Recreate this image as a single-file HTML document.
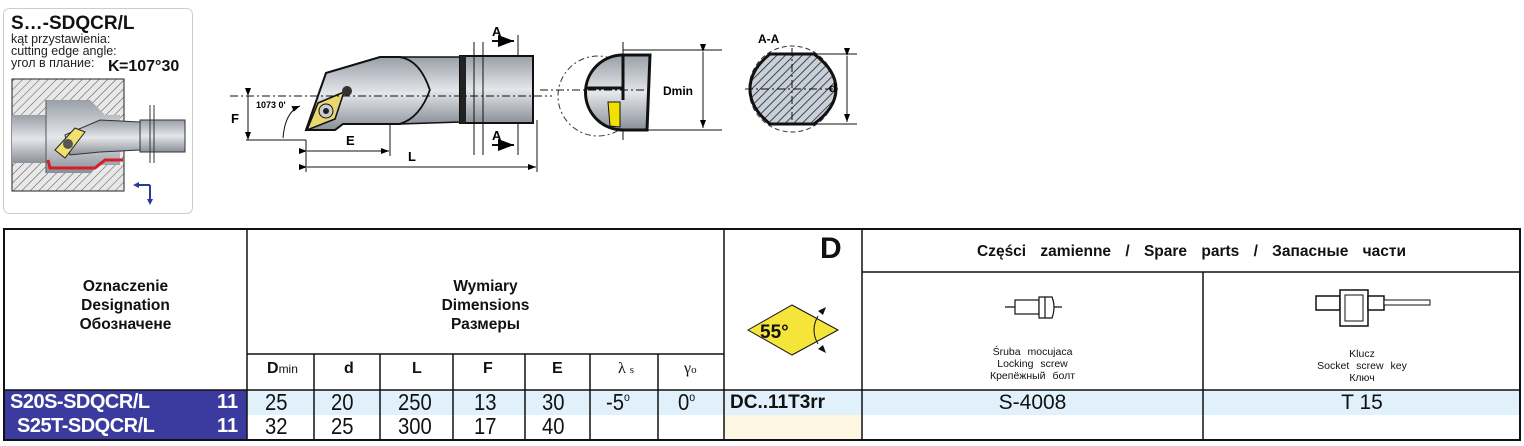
<!DOCTYPE html>
<html><head><meta charset="utf-8">
<style>
html,body{margin:0;padding:0;background:#fff;}
body{width:1524px;height:446px;position:relative;overflow:hidden;font-family:"Liberation Sans",Arial,sans-serif;}
.t{position:absolute;white-space:nowrap;}
.n{display:inline-block;transform:scaleX(0.88);transform-origin:left top;}
sup{font-size:12px;line-height:0;vertical-align:9px;}
</style></head><body>
<svg width="1524" height="446" style="position:absolute;left:0;top:0" xmlns="http://www.w3.org/2000/svg" font-family="Liberation Sans, Arial, sans-serif">
<defs>
<pattern id="h" width="6" height="6" patternUnits="userSpaceOnUse" patternTransform="rotate(45)"><rect width="6" height="6" fill="#e8e8e8"/><line x1="0" y1="0" x2="0" y2="6" stroke="#555" stroke-width="1"/></pattern>
<pattern id="h2" width="6" height="6" patternUnits="userSpaceOnUse" patternTransform="rotate(45)"><rect width="6" height="6" fill="#c8d0da"/><line x1="0" y1="0" x2="0" y2="6" stroke="#222" stroke-width="1.6"/></pattern>
<linearGradient id="g" x1="0" y1="0" x2="0" y2="1"><stop offset="0" stop-color="#9aa0a8"/><stop offset="0.5" stop-color="#e4e6ea"/><stop offset="1" stop-color="#8a9098"/></linearGradient>
<marker id="ar" markerWidth="8" markerHeight="6" refX="8" refY="3" orient="auto"><path d="M0,0L8,3L0,6z" fill="#000"/></marker>
</defs>
<!-- left box -->
<rect x="3.5" y="8.5" width="189" height="205" rx="6" fill="#fff" stroke="#ccc"/>
<text x="11" y="29" font-size="19" font-weight="bold" fill="#111">S…-SDQCR/L</text>
<text x="11" y="43" font-size="12.5" fill="#222">kąt przystawienia:</text>
<text x="11" y="55" font-size="12.5" fill="#222">cutting edge angle:</text>
<text x="11" y="67" font-size="12.5" fill="#222">угол в плание:</text>
<text x="108" y="71" font-size="16" font-weight="bold" fill="#111">K</text>
<text x="119" y="71" font-size="16" font-weight="bold" fill="#111">=107°30</text>
<rect x="12" y="79" width="112" height="112" fill="url(#h)" stroke="#222"/>
<rect x="12" y="115" width="35" height="48" fill="url(#g)"/>
<path d="M46,100 L90,100 L105,115 L120,115 L120,165 L100,165 L90,173 L46,173 Z" fill="url(#g)"/>
<path d="M46,100 L46,173" stroke="#555"/>
<path d="M48,160 L50,168 L95,168 L105,160 L123,160" fill="none" stroke="#d0202a" stroke-width="3"/>
<path d="M65,135 L100,120 L140,122 L150,135 L140,150 L100,152 L70,155 Z" fill="url(#g)" stroke="#333"/>
<rect x="140" y="120" width="45" height="32" fill="url(#g)" stroke="#333"/>
<path d="M55,150 L75,128 L85,132 L65,158 Z" fill="#f0e070" stroke="#222"/>
<circle cx="68" cy="144" r="5" fill="#555"/>
<line x1="150" y1="105" x2="150" y2="163" stroke="#333"/><line x1="154" y1="105" x2="154" y2="163" stroke="#333"/>
<path d="M150,185 L136,185 M150,185 L150,202" stroke="#2a3a9a" stroke-width="2" fill="none"/>
<path d="M133,185 L139,182 L139,188Z M150,205 L147,199 L153,199Z" fill="#2a3a9a"/>
<!-- main tool drawing -->
<path d="M306,130 L326,73 L380,57 L400,57 Q420,60 430,90 Q420,118 400,124 L343,124 L335,130 Z" fill="url(#g)" stroke="#111" stroke-width="2"/>
<path d="M400,57 L460,57 L460,122 L400,124 Q420,118 430,90 Q420,60 400,57Z" fill="url(#g)" stroke="#111" stroke-width="1.5"/>
<rect x="460" y="56" width="73" height="67" fill="url(#g)" stroke="#111" stroke-width="2"/>
<rect x="460" y="56" width="6" height="67" fill="#222"/>
<line x1="474" y1="42" x2="474" y2="155" stroke="#111"/><line x1="483" y1="42" x2="483" y2="155" stroke="#111"/>
<path d="M307,130 L318,103 L344,92 L335,119 Z" fill="#e8d870" stroke="#111" stroke-width="1.5"/>
<circle cx="326" cy="111" r="7" fill="#ccc" stroke="#111"/><circle cx="326" cy="111" r="3" fill="#222"/>
<circle cx="347" cy="91" r="5" fill="#333"/>
<line x1="230" y1="96" x2="552" y2="96" stroke="#111" stroke-dasharray="8,3,2,3"/>
<line x1="246" y1="140" x2="306" y2="140" stroke="#111"/>
<line x1="248" y1="96" x2="248" y2="140" stroke="#111" marker-start="url(#ar)" marker-end="url(#ar)"/>
<text x="231" y="123" font-size="13" font-weight="bold">F</text>
<text x="256" y="108" font-size="9" font-weight="bold">1073 0'</text>
<path d="M283,138 Q285,112 300,106" fill="none" stroke="#111" marker-end="url(#ar)"/>
<line x1="306" y1="140" x2="306" y2="172" stroke="#111"/>
<line x1="390" y1="124" x2="390" y2="156" stroke="#111"/>
<line x1="537" y1="120" x2="537" y2="172" stroke="#111"/>
<line x1="307" y1="151" x2="389" y2="151" stroke="#111" marker-start="url(#ar)" marker-end="url(#ar)"/>
<line x1="307" y1="167" x2="536" y2="167" stroke="#111" marker-start="url(#ar)" marker-end="url(#ar)"/>
<text x="346" y="145" font-size="13" font-weight="bold">E</text>
<text x="408" y="161" font-size="13" font-weight="bold">L</text>
<text x="492" y="36" font-size="13" font-weight="bold">A</text>
<text x="492" y="140" font-size="13" font-weight="bold">A</text>
<line x1="492" y1="41" x2="514" y2="41" stroke="#111" stroke-width="2" marker-end="url(#ar)"/>
<line x1="492" y1="145" x2="514" y2="145" stroke="#111" stroke-width="2" marker-end="url(#ar)"/>
<line x1="518" y1="35" x2="518" y2="56" stroke="#111"/><line x1="518" y1="123" x2="518" y2="155" stroke="#111"/>
<!-- end view -->
<circle cx="598" cy="96" r="40" fill="none" stroke="#333" stroke-dasharray="6,3,2,3"/>
<path d="M623,55 A37,37 0 1 0 623,130 L647,130 L650,55 Z" fill="url(#g)" stroke="#111" stroke-width="3"/>
<line x1="623" y1="55" x2="623" y2="100" stroke="#111" stroke-width="3"/>
<line x1="587" y1="88" x2="623" y2="88" stroke="#111" stroke-width="3"/>
<path d="M608,102 L620,102 L620,127 L610,126 Z" fill="#f2e000" stroke="#111"/>
<line x1="623" y1="42" x2="623" y2="55" stroke="#111"/><line x1="623" y1="130" x2="623" y2="140" stroke="#111"/>
<line x1="623" y1="50" x2="722" y2="50" stroke="#111"/><line x1="623" y1="130" x2="722" y2="130" stroke="#111"/>
<line x1="703" y1="52" x2="703" y2="128" stroke="#111" marker-start="url(#ar)" marker-end="url(#ar)"/>
<line x1="540" y1="90" x2="650" y2="90" stroke="#111" stroke-dasharray="8,3,2,3"/>
<text x="663" y="95" font-size="12" font-weight="bold">Dmin</text>
<text x="758" y="43" font-size="12" font-weight="bold">A-A</text>
<circle cx="792" cy="89" r="43" fill="none" stroke="#333" stroke-dasharray="5,3"/>
<path d="M770,54 L814,54 Q836,70 836,89 Q836,108 814,124 L770,124 Q750,108 750,89 Q750,70 770,54Z" fill="url(#h2)" stroke="#111" stroke-width="3"/>
<line x1="745" y1="89" x2="840" y2="89" stroke="#111" stroke-dasharray="8,3,2,3"/>
<line x1="792" y1="48" x2="792" y2="128" stroke="#111" stroke-dasharray="8,3,2,3"/>
<line x1="815" y1="54" x2="857" y2="54" stroke="#111"/><line x1="815" y1="124" x2="857" y2="124" stroke="#111"/>
<line x1="847" y1="56" x2="847" y2="122" stroke="#111" marker-start="url(#ar)" marker-end="url(#ar)"/>
<text x="829" y="92" font-size="12" font-weight="bold">d</text>

<!-- table backgrounds -->
<rect x="247" y="390" width="1274" height="25" fill="#e0f1fb"/>
<rect x="724" y="415" width="138" height="25" fill="#fdf6e2"/>
<rect x="3" y="390" width="244" height="50" fill="#3b3b9f"/>
<!-- table lines -->
<rect x="4" y="229" width="1516" height="211" fill="none" stroke="#111" stroke-width="2"/>
<g stroke="#111" stroke-width="1.5">
<line x1="247" y1="229" x2="247" y2="440"/>
<line x1="724" y1="229" x2="724" y2="440"/>
<line x1="862" y1="229" x2="862" y2="440"/>
<line x1="1203" y1="272" x2="1203" y2="440"/>
<line x1="862" y1="272" x2="1521" y2="272"/>
<line x1="247" y1="354" x2="724" y2="354"/>
<line x1="4" y1="390" x2="1521" y2="390"/>
<line x1="314" y1="354" x2="314" y2="440"/>
<line x1="380" y1="354" x2="380" y2="440"/>
<line x1="453" y1="354" x2="453" y2="440"/>
<line x1="525" y1="354" x2="525" y2="440"/>
<line x1="590" y1="354" x2="590" y2="440"/>
<line x1="658" y1="354" x2="658" y2="440"/>
</g>
<!-- diamond -->
<path d="M748,330 L792,305 L838,330 L792,355Z" fill="#f5e43a" stroke="#111"/>
<text x="760" y="338" font-size="19" font-weight="bold" fill="#111">55°</text>
<path d="M818,316 Q810,330 818,344" fill="none" stroke="#111"/>
<path d="M826,307 L818,311 L823,315Z M826,353 L818,349 L823,345Z" fill="#111"/>
<!-- screw icon -->
<g stroke="#111" fill="#fff" stroke-width="1.2">
<line x1="1005" y1="307" x2="1062" y2="307"/>
<rect x="1015" y="300" width="24" height="14"/>
<path d="M1039,297 L1052,297 Q1056,307 1052,318 L1039,318Z"/>
<line x1="1045" y1="297" x2="1045" y2="318"/>
</g>
<!-- key icon -->
<g stroke="#111" fill="#fff" stroke-width="1.5">
<rect x="1316" y="296" width="24" height="14"/>
<rect x="1340" y="290" width="28" height="36"/>
<rect x="1345" y="295" width="18" height="26" stroke-width="1"/>
<rect x="1368" y="296" width="16" height="14"/>
<rect x="1384" y="300" width="46" height="5" stroke-width="1"/>
</g>
</svg>

<div class="t" style="left:4px;top:277px;width:243px;text-align:center;font-size:15.5px;font-weight:bold;line-height:19px;color:#111">Oznaczenie<br>Designation<br>Обозначене</div>
<div class="t" style="left:247px;top:277px;width:477px;text-align:center;font-size:15.5px;font-weight:bold;line-height:19px;color:#111">Wymiary<br>Dimensions<br>Размеры</div>
<div class="t" style="left:820px;top:232px;font-size:30px;font-weight:bold;color:#111">D</div>
<div class="t" style="left:862px;top:243px;width:659px;text-align:center;font-size:15.5px;font-weight:bold;word-spacing:10px;color:#111">Części zamienne / Spare parts / Запасные части</div>
<div class="t" style="left:862px;top:346px;width:341px;text-align:center;font-size:10.5px;line-height:12px;color:#111;word-spacing:4px">Śruba mocujaca<br>Locking screw<br>Крепёжный болт</div>
<div class="t" style="left:1203px;top:348px;width:318px;text-align:center;font-size:10.5px;line-height:12px;color:#111;word-spacing:4px">Klucz<br>Socket screw key<br>Ключ</div>
<div style="position:absolute;left:247px;top:360px;font-size:16px;font-weight:bold;color:#111">
<span class="t" style="left:20px">D<span style="font-size:12px;font-weight:normal">min</span></span>
<span class="t" style="left:97px">d</span>
<span class="t" style="left:165px">L</span>
<span class="t" style="left:236px">F</span>
<span class="t" style="left:305px">E</span>
<span class="t" style="left:371px;font-weight:normal;font-family:'Liberation Serif',serif">λ <span style="font-size:11px">s</span></span>
<span class="t" style="left:437px;font-weight:normal;font-family:'Liberation Serif',serif">γ<span style="font-size:11px">o</span></span>
</div>
<div class="t" style="left:10px;top:391px;font-size:20px;font-weight:bold;color:#fff;letter-spacing:-0.5px">S20S-SDQCR/L</div>
<div class="t" style="left:217px;top:391px;font-size:20px;font-weight:bold;color:#fff">11</div>
<div class="t" style="left:17px;top:415px;font-size:20px;font-weight:bold;color:#fff;letter-spacing:-0.5px">S25T-SDQCR/L</div>
<div class="t" style="left:217px;top:415px;font-size:20px;font-weight:bold;color:#fff">11</div>
<div style="position:absolute;left:0;top:390px;font-size:23px;color:#111;line-height:25px">
<span class="t n" style="left:265px">25</span><span class="t n" style="left:331px">20</span><span class="t n" style="left:398px">250</span><span class="t n" style="left:474px">13</span><span class="t n" style="left:542px">30</span><span class="t n" style="left:606px">-5<sup>o</sup></span><span class="t n" style="left:678px">0<sup>o</sup></span>
</div>
<div style="position:absolute;left:0;top:414px;font-size:23px;color:#111;line-height:25px">
<span class="t n" style="left:265px">32</span><span class="t n" style="left:331px">25</span><span class="t n" style="left:398px">300</span><span class="t n" style="left:474px">17</span><span class="t n" style="left:542px">40</span>
</div>
<div class="t" style="left:730px;top:392px;font-size:19px;font-weight:bold;color:#111">DC..11T3rr</div>
<div class="t" style="left:862px;top:391px;width:341px;text-align:center;font-size:21px;color:#111">S-4008</div>
<div class="t" style="left:1203px;top:391px;width:318px;text-align:center;font-size:21px;color:#111">T 15</div>
</body></html>
